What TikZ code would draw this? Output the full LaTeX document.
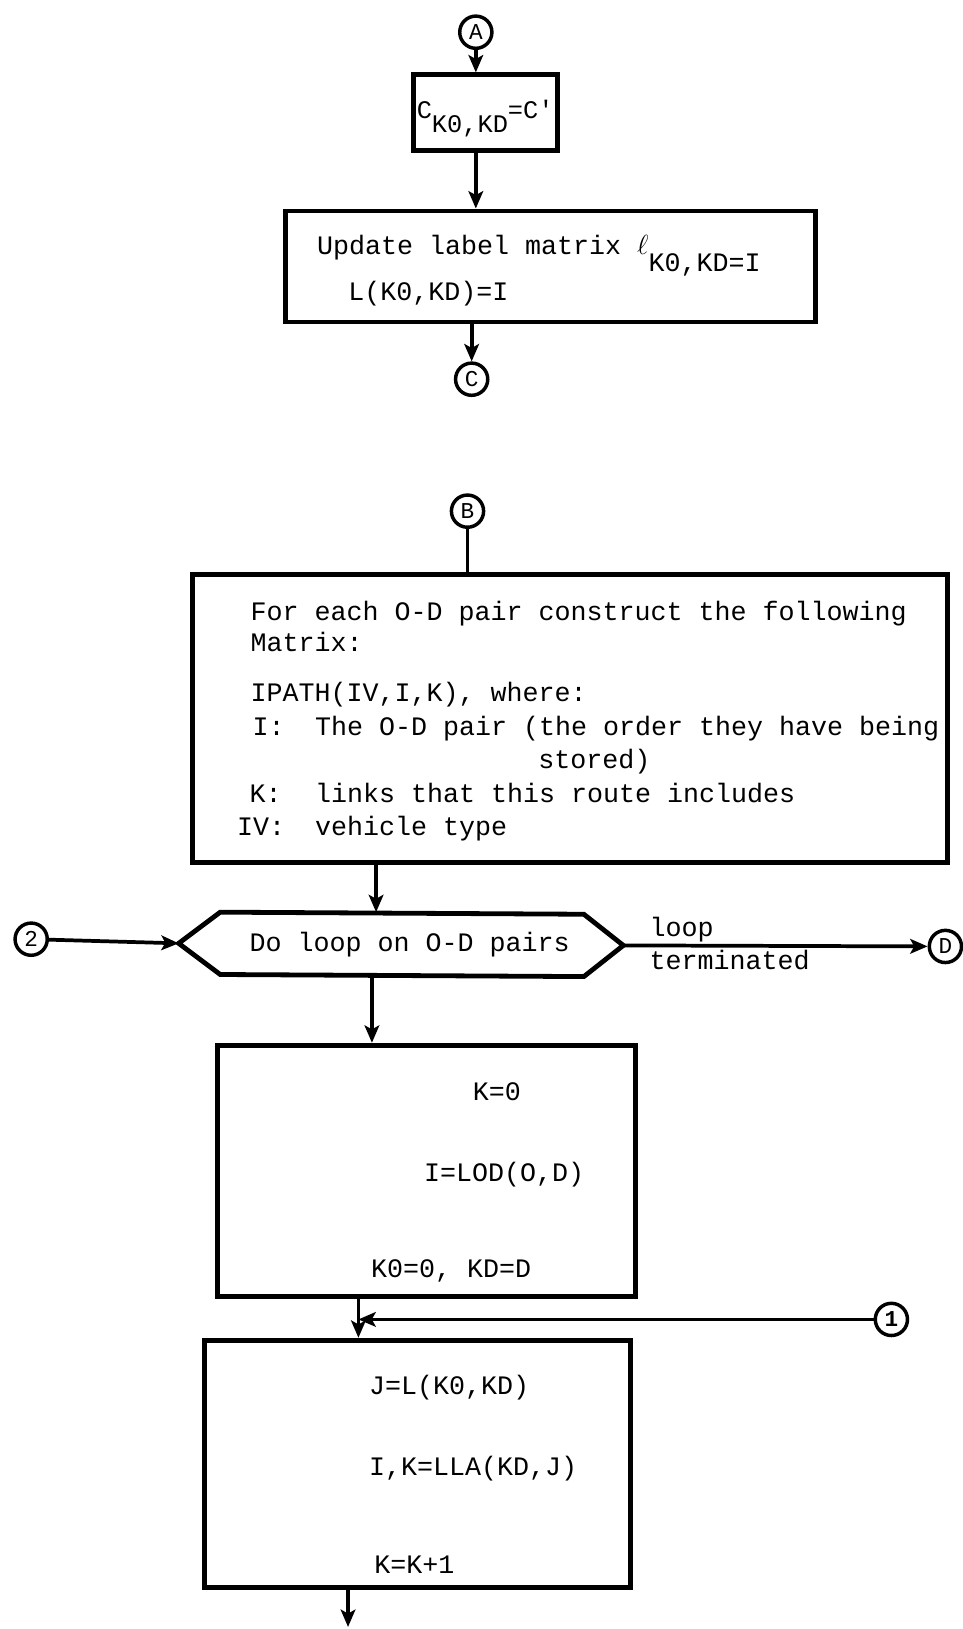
\documentclass[tikz,border=0pt]{standalone}
\usepackage{fontspec}
\setmonofont{Liberation Mono}
\usetikzlibrary{arrows.meta,calc}
\def\pxu{0.7792pt}
\newcommand\twfont{\ttfamily\fontsize{20}{22}\selectfont}
\newcommand\cnfont{\ttfamily\fontsize{17}{17}\selectfont}
\begin{document}
\begin{tikzpicture}[x=0.7792pt,y=-0.7792pt,
  boxline/.style={draw,line width=3.6pt,line join=miter},
  fbox/.style={boxline,rectangle,inner sep=0pt},
  conn/.style={circle,draw,line width=2.6pt,inner sep=0pt,minimum size=31*\pxu,font=\cnfont},
  wire/.style={line width=2.8pt},
  arr/.style={wire,-{Stealth[length=13pt,width=11pt,inset=3pt]}},
  txt/.style={anchor=base west,inner sep=0pt,font=\twfont}]
\useasboundingbox (0,0) rectangle (926,1568);

% column coordinates
\coordinate (xa) at (458,0);
\coordinate (x1) at (362,0);
\coordinate (x2) at (358,0);
\coordinate (x3) at (345,0);

% ---------- top part ----------
\node[conn] (A) at (458,31) {A};
\node[fbox,minimum width=139*\pxu,minimum height=73*\pxu] (box1) at (467.5,108.5) {};
\node[inner sep=0pt,font=\ttfamily\fontsize{19}{21}\selectfont] (t1) at (467,114) {C\raisebox{-10pt}{K0,KD}=C'};
\node[fbox,minimum width=510*\pxu,minimum height=107*\pxu] (box2) at (530,256.5) {};
\node[txt] (t2a) at (305,245) {Update label matrix $\ell$\raisebox{-13pt}{K0,KD=I}};
\node[txt] (t2b) at (335,289) {L(K0,KD)=I};
\node[conn] (C) at (454,365) {C};

\draw[arr] (A) -- (A |- box1.north);
\draw[arr] (box1.south -| xa) -- (box2.north -| xa);
\draw[arr] (box2.south -| C) -- (C);

% ---------- B part ----------
\node[conn] (B) at (450,492) {B};
\node[fbox,minimum width=727*\pxu,minimum height=277*\pxu] (box3) at (548.5,691.5) {};
\node[txt] (t3a) at (241,597) {For each O-D pair construct the following};
\node[txt] (t3b) at (241,627) {Matrix:};
\node[txt] (t3c) at (241,675) {IPATH(IV,I,K), where:};
\node[txt] (t3d) at (243,708) {I:};
\node[txt] (t3e) at (303,708) {The O-D pair (the order they have being};
\node[txt] (t3f) at (518,740) {stored)};
\node[txt] (t3g) at (240,772) {K:};
\node[txt] (t3h) at (303,772) {links that this route includes};
\node[txt] (t3i) at (228,804) {IV:};
\node[txt] (t3j) at (303,804) {vehicle type};
\draw[wire] (B) -- (B |- box3.north);

% hexagon
\coordinate (hW) at (172,908);
\coordinate (hNW) at (212,878);
\coordinate (hNE) at (562,880);
\coordinate (hE) at (600,910);
\coordinate (hSE) at (562,940);
\coordinate (hSW) at (212,938);
\draw[boxline] (hW) -- (hNW) -- (hNE) -- (hE) -- (hSE) -- (hSW) -- cycle;
\node[txt] (tloop) at (240,916) {Do loop on O-D pairs};
\draw[arr] (box3.south -| x1) -- (x1 |- hNW);

\node[conn] (two) at (30,904) {2};
\draw[arr] (two) -- (hW);
\node[conn] (D) at (910,911) {D};
\draw[arr] (hE) -- (D);
\node[txt] (tl1) at (625,901) {loop};
\node[txt] (tl2) at (625,933) {terminated};

% ---------- box 4 ----------
\node[fbox,minimum width=403*\pxu,minimum height=242*\pxu] (box4) at (410.5,1127) {};
\node[txt] (t4a) at (455,1059) {K=0};
\node[txt] (t4b) at (408,1137) {I=LOD(O,D)};
\node[txt] (t4c) at (357,1230) {K0=0, KD=D};
\draw[arr] (hSW -| x2) -- (box4.north -| x2);

% ---------- box 5 ----------
\node[fbox,minimum width=410*\pxu,minimum height=238*\pxu] (box5) at (402,1409) {};
\node[txt] (t5a) at (355,1342) {J=L(K0,KD)};
\node[txt] (t5b) at (355,1420) {I,K=LLA(KD,J)};
\node[txt] (t5c) at (360,1515) {K=K+1};
\draw[arr] (box4.south -| x3) -- (box5.north -| x3);

\node[conn] (one) at (858,1270) {\textbf{1}};
\draw[arr] (one) -- (one -| x3);

\coordinate (endp) at (335,1566);
\draw[arr] (box5.south -| endp) -- (endp);
\end{tikzpicture}
\end{document}
